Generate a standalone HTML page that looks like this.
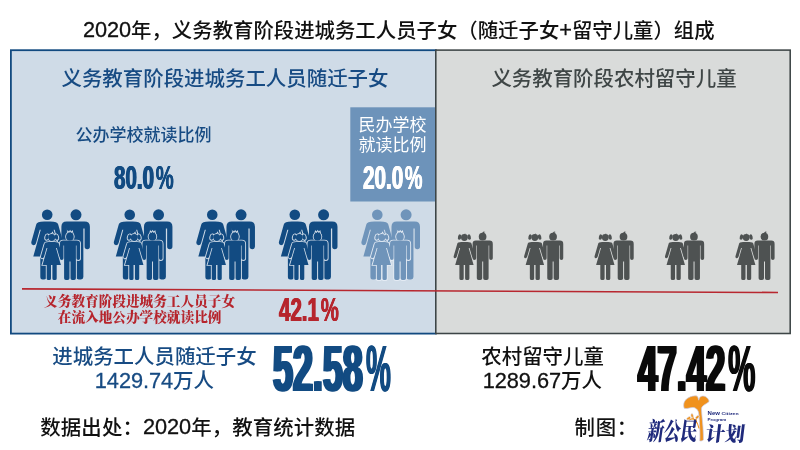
<!DOCTYPE html>
<html lang="zh-CN">
<head>
<meta charset="utf-8">
<title>2020年，义务教育阶段进城务工人员子女组成</title>
<style>
  html,body{margin:0;padding:0;}
  body{width:800px;height:450px;position:relative;overflow:hidden;background:#fff;
       font-family:"Liberation Sans","Noto Sans CJK SC",sans-serif;color:#111;}
  #wrap{position:absolute;left:0;top:0;width:800px;height:450px;will-change:transform;}
  .abs{position:absolute;white-space:nowrap;}
  .c{text-align:center;}
  .t20{font-size:20.45px;line-height:24px;}
  .d{font-size:1.065em;letter-spacing:-.05px;-webkit-text-stroke:.3px currentColor;position:relative;top:-.8px;}
  .blue{color:#174b83;}
  .gray{color:#3f4646;}
  .num{font-family:"Liberation Sans",sans-serif;font-weight:700;line-height:1;transform-origin:0 0;}
  .pc{display:inline-block;position:relative;transform-origin:0 0;}
  svg{position:absolute;left:0;top:0;}
</style>
</head>
<body>
<div id="wrap">

<svg width="800" height="450" viewBox="0 0 800 450">
<defs>
<g id="adults">
<circle cx="47.2" cy="214.8" r="5.3"/>
<path d="M47.2,221.4L44.2,221.4Q36.69,221.4 36.2,224.6L31.44,241.6Q30.73,244.14 32.95,245.11Q35.35,245.44 36.06,242.89L39.73,229.8L40.77,229.8L33.26,256.6L40.3,256.6L40.3,277.2Q40.3,279.4 42.5,279.4L44.1,279.4Q46.3,279.4 46.3,277.2L46.3,256.6L47.2,256.6L47.2,256.6L48.1,256.6L48.1,277.2Q48.1,279.4 50.3,279.4L51.9,279.4Q54.1,279.4 54.1,277.2L54.1,256.6L61.14,256.6L53.63,229.8L54.67,229.8L58.34,242.89Q59.05,245.44 61.45,245.11Q63.67,244.14 62.96,241.6L58.2,224.6Q57.71,221.4 50.2,221.4L47.2,221.4Z"/>
<circle cx="76" cy="214.8" r="5.5"/>
<path d="M75.65,221.4L66.7,221.4Q61.4,221.4 61.4,226.7L61.4,246.55Q61.4,249.2 64.05,249.2Q66.7,249.2 66.7,246.55L66.7,228.6L67.95,228.6L67.95,277.1Q67.95,279.5 70.35,279.5L72.65,279.5Q75.05,279.5 75.05,277.1L75.05,251.5L75.65,251.5L75.65,251.5L76.25,251.5L76.25,277.1Q76.25,279.5 78.65,279.5L80.95,279.5Q83.35,279.5 83.35,277.1L83.35,228.6L84.6,228.6L84.6,246.55Q84.6,249.2 87.25,249.2Q89.9,249.2 89.9,246.55L89.9,226.7Q89.9,221.4 84.6,221.4L75.65,221.4Z"/>
<rect x="66.2" y="228" width="2.2" height="22"/>
</g>
<g id="kids">
<ellipse cx="46.95" cy="237.1" rx="1.7" ry="2.8" transform="rotate(14 46.95 237.1)"/>
<ellipse cx="56.45" cy="237.1" rx="1.7" ry="2.8" transform="rotate(-14 56.45 237.1)"/>
<circle cx="51.7" cy="237.5" r="3.4"/>
<path d="M51.5,234.5L52.4,233.2L52.8,234.5Z"/>
<path d="M51.7,242.1L48.5,242.1Q44.8,242.1 44.5,244L41.02,256Q40.55,257.64 41.97,258.28Q43.52,258.5 44,256.86L46.57,248L47.4,248L42.5,264.9L46.7,264.9L46.7,278.4Q46.7,280.1 48.4,280.1L49.3,280.1Q51,280.1 51,278.4L51,264.9L51.7,264.9L51.7,264.9L52.4,264.9L52.4,278.4Q52.4,280.1 54.1,280.1L55,280.1Q56.7,280.1 56.7,278.4L56.7,264.9L60.9,264.9L56,248L56.83,248L59.4,256.86Q59.88,258.5 61.43,258.28Q62.85,257.64 62.38,256L58.9,244Q58.6,242.1 54.9,242.1L51.7,242.1Z"/>
<circle cx="69.9" cy="236.7" r="3.85"/>
<path d="M70,240.6L63.2,240.6Q59.9,240.6 59.9,243.9L59.9,258.2Q59.9,260 61.7,260Q63.5,260 63.5,258.2L63.5,245.6L64.1,245.6L64.1,278.2Q64.1,280 65.9,280L67.7,280Q69.5,280 69.5,278.2L69.5,261.4L70,261.4L70,261.4L70.5,261.4L70.5,278.2Q70.5,280 72.3,280L74.1,280Q75.9,280 75.9,278.2L75.9,245.6L76.5,245.6L76.5,258.2Q76.5,260 78.3,260Q80.1,260 80.1,258.2L80.1,243.9Q80.1,240.6 76.8,240.6L70,240.6Z"/>
</g>
<path id="crown" d="M67.4,234.6L68,232.0L69,233.2L70.1,231.5L71.2,233.2L72.2,232.0L72.8,234.6Z"/>
<path id="tuft" d="M68.6,233.7L70.9,231.5L72.7,231.9L71.4,232.6L71.6,233.9Z"/>
</defs>
<rect x="10.9" y="50.2" width="425" height="283.4" fill="#cfdbe7" stroke="#124a80" stroke-width="1.8"/>
<rect x="350.3" y="107.3" width="85.5" height="94.2" fill="#6d93ba"/>
<rect x="435.8" y="50.1" width="354.4" height="283.4" fill="#d9dbda" stroke="#3d4546" stroke-width="1.55"/>
<g transform="translate(0,0)"><use href="#adults" fill="#124b82"/><g fill="#cfdbe7" stroke="#cfdbe7" stroke-width="1.8"><use href="#kids"/><use href="#crown"/></g><g fill="#124b82"><use href="#kids"/><use href="#crown"/></g></g>
<g transform="translate(82.53,0)"><use href="#adults" fill="#124b82"/><g fill="#cfdbe7" stroke="#cfdbe7" stroke-width="1.8"><use href="#kids"/><use href="#crown"/></g><g fill="#124b82"><use href="#kids"/><use href="#crown"/></g></g>
<g transform="translate(165.06,0)"><use href="#adults" fill="#124b82"/><g fill="#cfdbe7" stroke="#cfdbe7" stroke-width="1.8"><use href="#kids"/><use href="#crown"/></g><g fill="#124b82"><use href="#kids"/><use href="#crown"/></g></g>
<g transform="translate(247.59,0)"><use href="#adults" fill="#124b82"/><g fill="#cfdbe7" stroke="#cfdbe7" stroke-width="1.8"><use href="#kids"/><use href="#crown"/></g><g fill="#124b82"><use href="#kids"/><use href="#crown"/></g></g>
<g transform="translate(330.1,0)"><use href="#adults" fill="#6f94ba"/><g fill="#e4ebf4" stroke="#e4ebf4" stroke-width="1.8"><use href="#kids"/><use href="#crown"/></g><g fill="#6f94ba"><use href="#kids"/><use href="#crown"/></g></g>
<g fill="#4e5252" transform="translate(412.7,0)"><use href="#kids"/><use href="#tuft"/></g>
<g fill="#4e5252" transform="translate(483.15,0)"><use href="#kids"/><use href="#tuft"/></g>
<g fill="#4e5252" transform="translate(553.6,0)"><use href="#kids"/><use href="#tuft"/></g>
<g fill="#4e5252" transform="translate(624.05,0)"><use href="#kids"/><use href="#tuft"/></g>
<g fill="#4e5252" transform="translate(694.5,0)"><use href="#kids"/><use href="#tuft"/></g>
<!-- logo -->
<g id="logo">
<path d="M684.2,408.3C682.8,404.2 684.2,400.4 687.8,398.1C691,396.1 694.9,395.4 697.1,396.1C698.1,397.2 698.4,398.6 698.7,400.2C699.1,398.3 699.9,396.9 701,396.4C703.6,395.3 706.4,396.5 708,398.8C708.7,399.8 709.1,400.6 709.1,401.4C708,402.8 705.3,404 703.3,405.6C702.1,406.6 701.5,407.7 701.5,409C701.7,414 702.4,420 702.9,426C703.2,431 703.5,436 703.4,439.9C702.4,440.9 700.9,441.2 699.8,440.9C700.1,436 699.9,430 699.4,422C699.1,417 698.9,413.2 698.2,411.4C697.2,409.1 695.5,407.7 693.2,407.5C690.4,407.3 687,409.2 684.2,408.3Z" fill="#f0921d" stroke="#c9cdea" stroke-width=".7"/>
<path d="M698.9,428C698.3,424.5 696.6,421.6 694.6,419.6M696.3,422.4C695.8,420 696.2,418.6 697,417.6M694.6,419.6C693,418.6 691,418.8 689.2,419.8M693.4,418.8C692.8,417.2 692.3,416 692.2,414.6" fill="none" stroke="#f0921d" stroke-width="1.2" stroke-linecap="round"/>
<ellipse cx="688.7" cy="418.3" rx="2.3" ry="1.3" transform="rotate(-35 688.7 418.3)" fill="#f0921d" stroke="#dfe2f3" stroke-width=".6"/>
<ellipse cx="692.1" cy="415.6" rx="1.2" ry="2.1" transform="rotate(-8 692.1 415.6)" fill="#f0921d" stroke="#dfe2f3" stroke-width=".6"/>
<ellipse cx="697.3" cy="417.2" rx="2.2" ry="1.3" transform="rotate(-40 697.3 417.2)" fill="#f0921d" stroke="#dfe2f3" stroke-width=".6"/>
<text transform="translate(646.5,440.3) skewX(-8) scale(1,1.5)" font-family="'Liberation Serif','Noto Serif CJK SC',serif" font-weight="900" font-size="16.6" fill="#1f2a7c">新公民</text>
<text transform="translate(704.8,440.8) skewX(-7) scale(1,1.02)" font-family="'Liberation Serif','Noto Serif CJK SC',serif" font-weight="900" font-size="19.6" fill="#1f2a7c">计划</text>
<text x="707.6" y="415" textLength="12.4" lengthAdjust="spacingAndGlyphs" font-family="'Liberation Sans',sans-serif" font-weight="700" font-size="5.3" fill="#1f2a7c">New</text>
<text x="721.6" y="415" textLength="17" lengthAdjust="spacingAndGlyphs" font-family="'Liberation Sans',sans-serif" font-weight="700" font-size="4.2" fill="#1f2a7c">Citizen</text>
<text x="707.6" y="420.6" textLength="18.6" lengthAdjust="spacingAndGlyphs" font-family="'Liberation Sans',sans-serif" font-weight="700" font-size="4.4" fill="#1f2a7c">Program</text>
</g>
<line x1="22" y1="288.9" x2="778" y2="292.5" stroke="#b8272f" stroke-width="1.6"/>
</svg>

<div class="abs c" id="title" style="left:-1.2px;top:17.5px;width:800px;font-size:20.4px;line-height:26px;font-weight:500;"><span class="d">2020</span>年，义务教育阶段进城务工人员子女（随迁子女<span class="d">+</span>留守儿童）组成</div>

<div class="abs c t20 blue" id="tBlue" style="left:25px;top:67.2px;width:400px;font-weight:500;">义务教育阶段进城务工人员随迁子女</div>
<div class="abs c t20 gray" id="tGray" style="left:436px;top:67.2px;width:356px;font-weight:500;">义务教育阶段农村留守儿童</div>

<div class="abs c blue" id="tGong" style="left:43.5px;top:124.7px;width:200px;font-size:17px;line-height:22px;font-weight:500;">公办学校就读比例</div>
<div class="abs c" id="tMin" style="left:350px;top:116.3px;width:85px;font-size:17px;line-height:19.6px;color:#fff;">民办学校<br>就读比例</div>

<div class="abs c" id="tRed" style="left:39.6px;top:294px;width:200px;font-family:'Liberation Serif','Noto Serif CJK SC',serif;font-weight:900;font-size:13.65px;line-height:15.5px;color:#b6252d;">义务教育阶段进城务工人员子女<br>在流入地公办学校就读比例</div>

<div class="abs c t20 blue" id="tL1" style="left:52.3px;top:344.6px;width:200px;font-weight:500;">进城务工人员随迁子女</div>
<div class="abs c t20 blue" id="tL2" style="left:54.4px;top:369.3px;width:200px;font-weight:500;"><span class="d">1429.74</span>万人</div>
<div class="abs c t20" id="tR1" style="left:442.6px;top:345.1px;width:200px;font-weight:500;">农村留守儿童</div>
<div class="abs c t20" id="tR2" style="left:442.3px;top:369.3px;width:200px;font-weight:500;"><span class="d">1289.67</span>万人</div>

<div class="abs t20" id="tSrc" style="left:40.3px;top:415.8px;font-weight:500;letter-spacing:.09px;">数据出处：<span class="d">2020</span>年，教育统计数据</div>
<div class="abs t20" id="tZhi" style="left:574.6px;top:415.8px;font-weight:500;letter-spacing:.6px;">制图：</div>

<!-- condensed numerals -->
<div class="abs num" id="n80" style="left:113.5px;top:162.2px;font-size:32.5px;color:#124b82;transform:scaleX(0.633);text-shadow:0.84px 0 0 #124b82,-0.84px 0 0 #124b82;">80.0<span class="pc" style="left:2.45px;transform:scaleX(0.9810);text-shadow:0.39px 0 0 #124b82,-0.39px 0 0 #124b82;">%</span></div>
<div class="abs num" id="n20" style="left:363.2px;top:162.4px;font-size:32.3px;color:#ffffff;transform:scaleX(0.642);text-shadow:0.84px 0 0 #ffffff,-0.84px 0 0 #ffffff;">20.0<span class="pc" style="left:1.78px;transform:scaleX(0.9626);text-shadow:0.39px 0 0 #ffffff,-0.39px 0 0 #ffffff;">%</span></div>
<div class="abs num" id="n42" style="left:278.7px;top:293.0px;font-size:33.0px;color:#b6252d;transform:scaleX(0.622);text-shadow:0.86px 0 0 #b6252d,-0.86px 0 0 #b6252d;">42.1<span class="pc" style="left:2.49px;transform:scaleX(0.9920);text-shadow:0.4px 0 0 #b6252d,-0.4px 0 0 #b6252d;">%</span></div>
<div class="abs num" id="n52" style="left:273.1px;top:337.3px;font-size:64.4px;color:#124b82;transform:scaleX(0.557);text-shadow:2.58px 0 0 #124b82,-2.58px 0 0 #124b82;">52.58<span class="pc" style="left:5.47px;transform:scaleX(0.7810);text-shadow:1.29px 0 0 #124b82,-1.29px 0 0 #124b82;">%</span></div>
<div class="abs num" id="n47" style="left:637.5px;top:336.0px;font-size:65.5px;color:#0a0a0a;transform:scaleX(0.533);text-shadow:2.62px 0 0 #0a0a0a,-2.62px 0 0 #0a0a0a;">47.42<span class="pc" style="left:5.1px;transform:scaleX(0.8799);text-shadow:1.31px 0 0 #0a0a0a,-1.31px 0 0 #0a0a0a;">%</span></div>

</div>
</body>
</html>
